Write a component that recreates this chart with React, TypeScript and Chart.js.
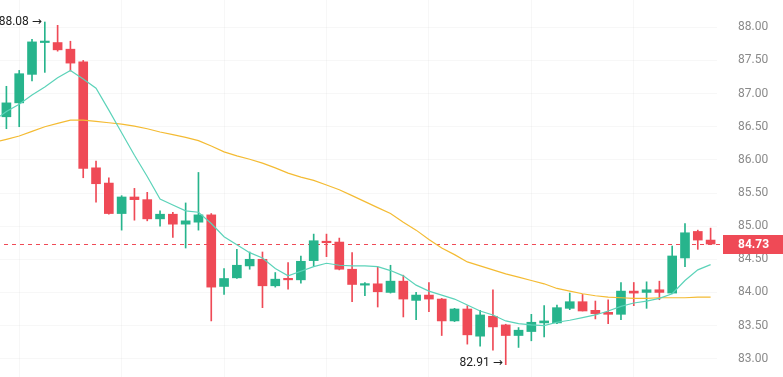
import React, { useEffect, useRef } from 'react';
import { Chart, registerables } from 'chart.js';

Chart.register(...registerables);

// ---- data ----
const opens = [86.65, 86.86, 87.29, 87.77, 87.77, 87.67, 87.48, 85.88, 85.65, 85.19, 85.44, 85.40, 85.11, 85.18, 85.03, 85.06, 85.17, 84.09, 84.22, 84.40, 84.50, 84.10, 84.21, 84.19, 84.48, 84.77, 84.76, 84.35, 84.11, 84.13, 84.00, 84.17, 83.88, 83.96, 83.90, 83.57, 83.75, 83.34, 83.64, 83.51, 83.35, 83.41, 83.54, 83.54, 83.76, 83.86, 83.73, 83.70, 83.67, 84.02, 84.00, 84.04, 83.99, 84.52, 84.92, 84.79];
const highs = [87.11, 87.35, 87.82, 88.08, 88.03, 87.79, 87.50, 85.98, 85.73, 85.46, 85.57, 85.51, 85.23, 85.21, 85.35, 85.81, 85.19, 84.36, 84.65, 84.61, 84.61, 84.30, 84.45, 84.55, 84.88, 84.88, 84.82, 84.60, 84.15, 84.38, 84.41, 84.26, 84.00, 84.15, 83.91, 83.76, 83.80, 83.73, 84.04, 83.52, 83.47, 83.67, 83.80, 83.81, 83.99, 83.97, 83.87, 83.89, 84.15, 84.15, 84.16, 84.17, 84.70, 85.04, 84.94, 84.97];
const lows = [86.47, 86.50, 87.19, 87.32, 87.64, 87.34, 85.73, 85.36, 85.18, 84.94, 85.09, 85.08, 85.00, 84.83, 84.67, 84.94, 83.57, 83.97, 84.21, 84.35, 83.77, 84.08, 84.05, 84.14, 84.40, 84.54, 84.34, 83.86, 83.95, 83.78, 83.99, 83.63, 83.59, 83.71, 83.35, 83.56, 83.22, 83.19, 83.13, 82.91, 83.17, 83.27, 83.33, 83.53, 83.74, 83.72, 83.60, 83.53, 83.59, 83.80, 83.76, 83.89, 83.98, 84.39, 84.65, 84.72];
const closes = [86.86, 87.30, 87.78, 87.78, 87.66, 87.46, 85.87, 85.64, 85.19, 85.44, 85.40, 85.11, 85.18, 85.03, 85.08, 85.17, 84.08, 84.21, 84.41, 84.50, 84.10, 84.20, 84.19, 84.47, 84.78, 84.75, 84.35, 84.12, 84.12, 84.01, 84.17, 83.90, 83.96, 83.90, 83.57, 83.75, 83.36, 83.66, 83.48, 83.35, 83.43, 83.55, 83.57, 83.77, 83.86, 83.72, 83.68, 83.67, 84.02, 83.99, 84.04, 84.00, 84.55, 84.90, 84.79, 84.73];
// moving averages: first value belongs to the candle just before the visible range
const maFast = [86.59, 86.73, 86.84, 86.98, 87.10, 87.24, 87.35, 87.22, 87.08, 86.75, 86.41, 86.07, 85.75, 85.41, 85.32, 85.23, 85.21, 85.04, 84.84, 84.72, 84.60, 84.52, 84.36, 84.25, 84.32, 84.39, 84.44, 84.41, 84.40, 84.40, 84.39, 84.33, 84.25, 84.11, 84.02, 83.96, 83.90, 83.81, 83.72, 83.66, 83.57, 83.53, 83.51, 83.50, 83.55, 83.58, 83.62, 83.66, 83.72, 83.79, 83.84, 83.87, 83.91, 83.98, 84.18, 84.34, 84.42];
const maSlow = [86.26, 86.31, 86.36, 86.43, 86.50, 86.55, 86.60, 86.60, 86.58, 86.56, 86.54, 86.51, 86.47, 86.42, 86.38, 86.34, 86.29, 86.21, 86.12, 86.06, 86.01, 85.95, 85.88, 85.80, 85.74, 85.69, 85.62, 85.55, 85.46, 85.37, 85.28, 85.19, 85.06, 84.94, 84.80, 84.67, 84.57, 84.46, 84.40, 84.34, 84.28, 84.23, 84.18, 84.13, 84.06, 84.02, 83.98, 83.95, 83.93, 83.92, 83.91, 83.91, 83.92, 83.92, 83.92, 83.93, 83.93];
const maStartIndex = -1;
const yTicks = [83.0, 83.5, 84.0, 84.5, 85.0, 85.5, 86.0, 86.5, 87.0, 87.5, 88.0];
const xGridIdx = [1, 9, 17, 25, 33, 41, 49];
const yMin = 82.724;
const yMax = 88.412;

// ---- styles ----
const GREEN = '#27b48c';
const RED = '#ef4a56';
const TEAL = '#5cd3b9';
const YELLOW = '#f4bb33';
const GRID = 'rgba(0,0,0,0.03)';
const FONT = 'Roboto, "DejaVu Sans", sans-serif';

export default function App() {
  const ref = useRef<HTMLCanvasElement>(null);

  useEffect(() => {
    const labels = closes.map((_, i) => String(i));
    const colors = closes.map((c, i) => (c >= opens[i] ? GREEN : RED));

    const overlay = {
      id: 'overlay',
      beforeDatasetsDraw(chart: any) {
        const { ctx, chartArea, scales } = chart;
        const last = closes[closes.length - 1];
        const py = Math.round(scales.y.getPixelForValue(last)) + 0.5;
        ctx.save();
        ctx.strokeStyle = RED;
        ctx.lineWidth = 1;
        ctx.setLineDash([4, 4]);
        ctx.beginPath();
        ctx.moveTo(chartArea.left + 4, py);
        ctx.lineTo(chartArea.right + 6, py);
        ctx.stroke();
        ctx.restore();
      },
      afterDraw(chart: any) {
        const { ctx, chartArea, scales, width } = chart;
        const x = scales.x;
        const y = scales.y;
        ctx.save();
        // last price label
        const last = closes[closes.length - 1];
        const py = y.getPixelForValue(last);
        ctx.fillStyle = RED;
        ctx.fillRect(chartArea.right + 6, Math.round(py - 9.5), width - chartArea.right - 6, 19);
        ctx.fillStyle = '#ffffff';
        ctx.font = 'bold 12px ' + FONT;
        ctx.textAlign = 'left';
        ctx.textBaseline = 'middle';
        ctx.fillText(last.toFixed(2), chartArea.right + 21, py + 0.5);
        // high / low markers
        const hi = Math.max(...highs);
        const lo = Math.min(...lows);
        const hiIdx = highs.indexOf(hi);
        const loIdx = lows.indexOf(lo);
        ctx.font = '12px ' + FONT;
        ctx.fillStyle = '#222222';
        ctx.textAlign = 'right';
        ctx.fillText(hi.toFixed(2) + ' \u2192', x.getPixelForValue(hiIdx) - 3, y.getPixelForValue(hi));
        ctx.fillText(lo.toFixed(2) + ' \u2192', x.getPixelForValue(loIdx) - 3, y.getPixelForValue(lo) - 2);
        ctx.restore();
      },
    };

    const chart = new Chart(ref.current as HTMLCanvasElement, {
      type: 'bar',
      data: {
        labels,
        datasets: [
          {
            type: 'line',
            label: 'MA fast',
            data: maFast.map((v, i) => ({ x: i + maStartIndex, y: v })),
            xAxisID: 'x2',
            borderColor: TEAL,
            borderWidth: 1.2,
            pointRadius: 0,
            tension: 0,
            order: 0,
          } as any,
          {
            type: 'line',
            label: 'MA slow',
            data: maSlow.map((v, i) => ({ x: i + maStartIndex, y: v })),
            xAxisID: 'x2',
            borderColor: YELLOW,
            borderWidth: 1.2,
            pointRadius: 0,
            tension: 0,
            order: 0,
          } as any,
          {
            type: 'bar',
            label: 'body',
            data: opens.map((o, i) => [o, closes[i]]),
            backgroundColor: colors,
            barThickness: 9,
            grouped: false,
            minBarLength: 1.5,
            borderWidth: 0,
            order: 1,
          } as any,
          {
            type: 'bar',
            label: 'wick',
            data: lows.map((l, i) => [l, highs[i]]),
            backgroundColor: colors,
            barThickness: 1,
            grouped: false,
            borderWidth: 0,
            order: 2,
          } as any,
        ],
      },
      options: {
        animation: false,
        responsive: false,
        maintainAspectRatio: false,
        layout: { padding: 0 },
        plugins: {
          legend: { display: false },
          tooltip: { enabled: false },
        },
        scales: {
          x: {
            type: 'category',
            display: false,
            offset: true,
          },
          x2: {
            type: 'linear',
            position: 'bottom',
            min: -0.5,
            max: closes.length - 0.5,
            offset: false,
            display: true,
            ticks: { display: false },
            grid: { color: GRID, drawTicks: false, offset: false },
            border: { display: false },
            afterBuildTicks: (s: any) => {
              s.ticks = xGridIdx.map((v) => ({ value: v }));
            },
          },
          y: {
            type: 'linear',
            position: 'right',
            min: yMin,
            max: yMax,
            afterBuildTicks: (s: any) => {
              s.ticks = yTicks.map((v) => ({ value: v }));
            },
            afterFit: (s: any) => {
              s.width = 66;
              s.paddingTop = 0;
              s.paddingBottom = 0;
            },
            ticks: {
              color: '#8a8a8a',
              font: { family: FONT, size: 12 },
              padding: 0,
              callback: (v: any) => Number(v).toFixed(2),
            },
            grid: { color: GRID, drawTicks: true, tickLength: 21, tickColor: 'transparent' },
            border: { display: false },
          },
        } as any,
      },
      plugins: [overlay],
    });

    return () => chart.destroy();
  }, []);

  return (
    <div style={{ position: 'fixed', left: 0, top: 0, width: 783, height: 377, background: '#ffffff' }}>
      <canvas ref={ref} width={783} height={377} style={{ display: 'block' }} />
    </div>
  );
}
